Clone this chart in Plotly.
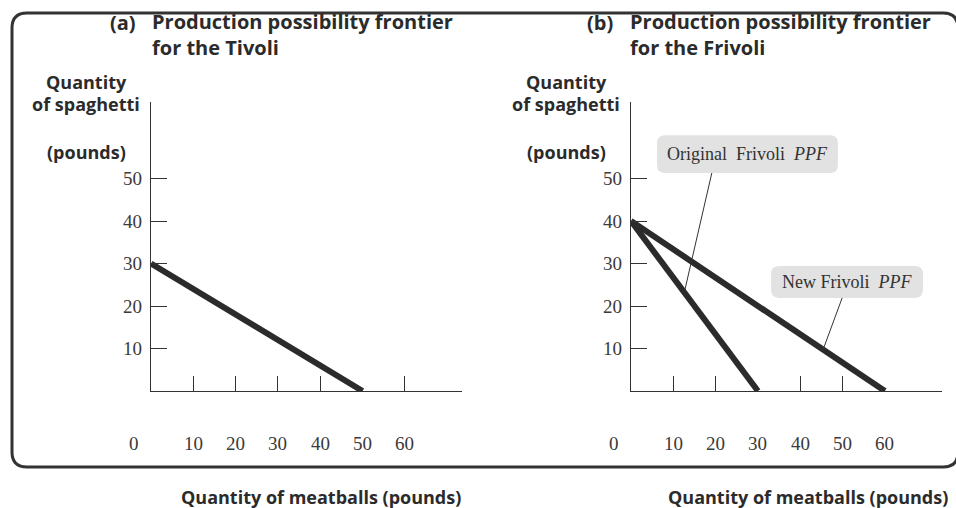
import numpy as np
import plotly.graph_objects as go

W, H = 956, 508

# ---- data ----
tivoli_meatballs = [0, 50]
tivoli_spaghetti = [30, 0]
frivoli_orig_meatballs = [0, 30]
frivoli_orig_spaghetti = [40, 0]
frivoli_new_meatballs = [0, 60]
frivoli_new_spaghetti = [40, 0]

y_ticks = [10, 20, 30, 40, 50]
x_tick_labels = [0, 10, 20, 30, 40, 50, 60]
x_tick_marks_a = [10, 20, 30, 40, 60]
x_tick_marks_b = [10, 20, 40, 50]

titles = [("(a)", "Production possibility frontier", "for the Tivoli"),
          ("(b)", "Production possibility frontier", "for the Frivoli")]
y_label_lines = ["Quantity", "of spaghetti", "(pounds)"]
x_label = "Quantity of meatballs (pounds)"
orig_label = "Original\u00a0 Frivoli\u00a0 <i>PPF</i>"
new_label = "New Frivoli\u00a0 <i>PPF</i>"

# ---- style ----
LINE = "#2b2b2b"
AX = "#333333"
SANS = "Open Sans"
SERIF = "Liberation Serif"
XR = [0, 73.5]
YR = [0, 68]


def px(x):
    return x / W


def py(y):
    return 1 - y / H


fig = go.Figure()
fig.add_trace(go.Scatter(x=tivoli_meatballs, y=tivoli_spaghetti, mode="lines",
                         line=dict(color=LINE, width=6), xaxis="x", yaxis="y",
                         showlegend=False, hoverinfo="skip"))
fig.add_trace(go.Scatter(x=frivoli_orig_meatballs, y=frivoli_orig_spaghetti, mode="lines",
                         line=dict(color=LINE, width=6), xaxis="x2", yaxis="y2",
                         showlegend=False, hoverinfo="skip"))
fig.add_trace(go.Scatter(x=frivoli_new_meatballs, y=frivoli_new_spaghetti, mode="lines",
                         line=dict(color=LINE, width=6), xaxis="x2", yaxis="y2",
                         showlegend=False, hoverinfo="skip"))


def xaxis(domain, marks):
    return dict(domain=domain, range=XR, showline=True, linecolor=AX, linewidth=1.3,
                ticks="inside", ticklen=15, tickwidth=1.3, tickcolor=AX,
                tickvals=marks, showticklabels=False, showgrid=False, zeroline=False,
                fixedrange=True)


def yaxis(anchor):
    return dict(domain=[py(391), py(102)], range=YR, anchor=anchor, showline=True,
                linecolor=AX, linewidth=1.3, ticks="inside", ticklen=16, tickwidth=1.3,
                tickcolor=AX, tickvals=y_ticks, showgrid=False, zeroline=False,
                ticklabelstandoff=4,
                tickfont=dict(family=SERIF, size=19, color="#3a3a3a"), fixedrange=True)


annotations = []
shapes = []

# x tick label rows (placed low under each axis)
for xref, yref in (("x", "y"), ("x2", "y2")):
    for v in x_tick_labels:
        annotations.append(dict(x=v, y=0, xref=xref, yref=yref, text=str(v), showarrow=False,
                                xanchor="center", yanchor="middle",
                                yshift=-52, xshift=(-17 if v == 0 else 0),
                                font=dict(family=SERIF, size=19, color="#3a3a3a")))

# titles, axis labels
bold = dict(family=SANS, size=20, color="#2b2b2b", weight=700)
lab = dict(family=SANS, size=18, color="#2b2b2b", weight=700)
for (tag, l1, l2), x_tag, x_txt, x_lab_c, x_bottom in zip(
        titles, (108, 585), (150, 628), (86, 566), (321, 808)):
    annotations.append(dict(x=px(x_tag), y=py(22), xref="paper", yref="paper", text=tag,
                            xanchor="left", yanchor="middle", showarrow=False, font=bold))
    annotations.append(dict(x=px(x_txt), y=py(35), xref="paper", yref="paper",
                            text=l1 + "<br>" + l2, align="left",
                            xanchor="left", yanchor="middle", showarrow=False, font=bold))
    for line, yy in zip(y_label_lines, (82, 104, 152)):
        annotations.append(dict(x=px(x_lab_c), y=py(yy), xref="paper", yref="paper", text=line,
                                xanchor="center", yanchor="middle", showarrow=False, font=lab))
    annotations.append(dict(x=px(x_bottom), y=py(497), xref="paper", yref="paper",
                            text=x_label, showarrow=False, xanchor="center", yanchor="middle",
                            font=dict(family=SANS, size=18, color="#2b2b2b", weight=700)))


def rrect(x0, y0, x1, y1, rx, ry):
    return (f"M {x0+rx},{y0} L {x1-rx},{y0} Q {x1},{y0} {x1},{y0+ry} "
            f"L {x1},{y1-ry} Q {x1},{y1} {x1-rx},{y1} L {x0+rx},{y1} "
            f"Q {x0},{y1} {x0},{y1-ry} L {x0},{y0+ry} Q {x0},{y0} {x0+rx},{y0} Z")


# outer frame (paper coordinates)
shapes.append(dict(type="path", xref="paper", yref="paper",
                   path=rrect(px(12), py(467), px(958), py(13), px(15), 15 / H),
                   line=dict(color="#333333", width=3), fillcolor="rgba(0,0,0,0)",
                   layer="below"))

# callout labels in panel b (data coordinates)
r = 1.9
for text, box, tail, head_x, series in (
        (orig_label, (6.15, 51.3, 48.9, 60.2), (19.1, 51.3), 12.6,
         (frivoli_orig_meatballs, frivoli_orig_spaghetti)),
        (new_label, (33.1, 21.9, 69.0, 29.4), (49.9, 21.9), 45.4,
         (frivoli_new_meatballs, frivoli_new_spaghetti))):
    x0, y0, x1, y1 = box
    shapes.append(dict(type="path", xref="x2", yref="y2", path=rrect(x0, y0, x1, y1, r, r),
                       fillcolor="#e2e2e2", line=dict(width=0), layer="below"))
    head_y = float(np.interp(head_x, series[0], series[1]))
    shapes.append(dict(type="line", xref="x2", yref="y2", x0=tail[0], y0=tail[1],
                       x1=head_x, y1=head_y, line=dict(color="#333333", width=1)))
    annotations.append(dict(x=(x0 + x1) / 2, y=(y0 + y1) / 2, xref="x2", yref="y2", text=text,
                            showarrow=False, xanchor="center", yanchor="middle",
                            font=dict(family=SERIF, size=18, color="#333333")))

fig.update_layout(
    width=W, height=H, autosize=False,
    margin=dict(l=0, r=0, t=0, b=0),
    paper_bgcolor="white", plot_bgcolor="white",
    xaxis=xaxis([px(151), px(462)], x_tick_marks_a),
    yaxis=yaxis("x"),
    xaxis2=xaxis([px(631), px(942)], x_tick_marks_b),
    yaxis2=yaxis("x2"),
    annotations=annotations,
    shapes=shapes,
    showlegend=False,
)
fig.update_layout(xaxis2=dict(anchor="y2"), yaxis2=dict(anchor="x2"))

fig.write_html("out.html", config={"displayModeBar": False},
               post_script="document.body.style.margin='0';")
